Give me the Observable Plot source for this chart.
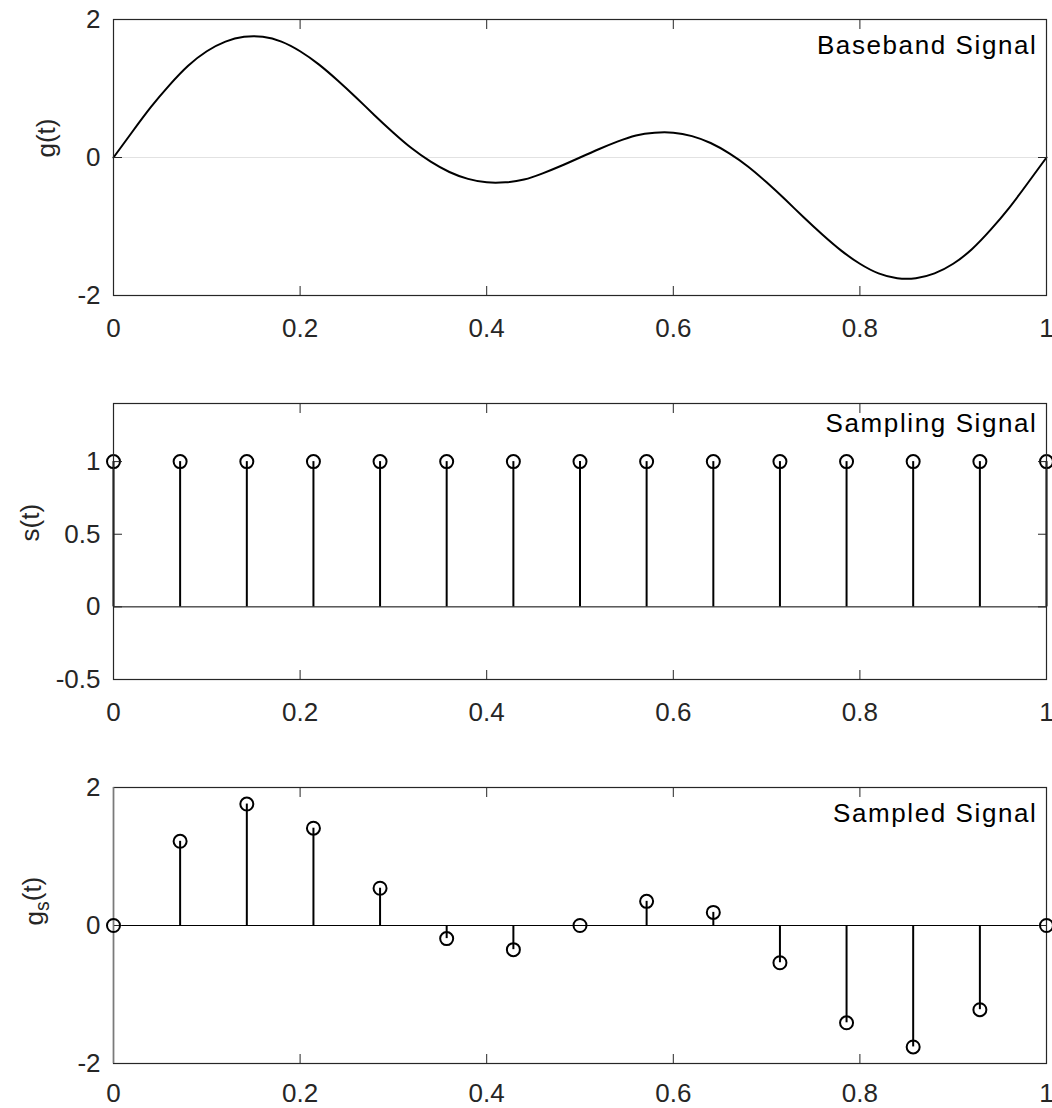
<!DOCTYPE html>
<html><head><meta charset="utf-8">
<script src="https://cdn.jsdelivr.net/npm/d3@7"></script>
<script src="https://cdn.jsdelivr.net/npm/@observablehq/plot@0.6"></script>
<style>
body{margin:0;background:#fff;overflow:hidden}
#c{position:relative;width:1052px;height:1108px;background:#fff}
#c svg{position:absolute;left:0}
</style>
</head><body><div id="c"></div>
<script>
// Baseband signal g(t)
const tCurve = [0,0.02,0.04,0.06,0.08,0.10,0.12,0.14,0.16,0.18,0.20,0.22,0.24,0.26,0.28,0.30,0.32,0.34,0.36,0.38,0.40,0.42,0.44,0.46,0.48,0.50,
  0.52,0.54,0.56,0.58,0.60,0.62,0.64,0.66,0.68,0.70,0.72,0.74,0.76,0.78,0.80,0.82,0.84,0.86,0.88,0.90,0.92,0.94,0.96,0.98,1.00];
const gCurve = [0,0.37,0.73,1.05,1.33,1.54,1.68,1.75,1.75,1.68,1.54,1.35,1.12,0.87,0.61,0.36,0.13,-0.06,-0.21,-0.31,-0.36,-0.36,-0.32,-0.23,-0.12,0,
  0.12,0.23,0.32,0.36,0.36,0.31,0.21,0.06,-0.13,-0.36,-0.61,-0.87,-1.12,-1.35,-1.54,-1.68,-1.75,-1.75,-1.68,-1.54,-1.33,-1.05,-0.73,-0.37,0];

// Samples (middle and bottom panels)
const tSamples = [0,0.0714,0.1429,0.2143,0.2857,0.3571,0.4286,0.5,0.5714,0.6429,0.7143,0.7857,0.8571,0.9286,1];
const sSamples = [1,1,1,1,1,1,1,1,1,1,1,1,1,1,1];
const gsSamples = [0,1.22,1.76,1.41,0.54,-0.19,-0.35,0,0.35,0.19,-0.54,-1.41,-1.76,-1.22,0];

const xTicks = [0,0.2,0.4,0.6,0.8,1];
const yTicksG = [-2,0,2];
const yTicksS = [-0.5,0,0.5,1];
const yTicksGs = [-2,0,2];
const titles = ["Baseband Signal","Sampling Signal","Sampled Signal"];
const yLabels = ["g(t)","s(t)","gs(t)"];

const AX = "#262626";
const FONT = "'Liberation Sans', Arial, Helvetica, sans-serif";
const fmt = d => String(d);

const curve = tCurve.map((t,i)=>({t, g: gCurve[i]}));
const samples = tSamples.map((t,i)=>({t, s: sSamples[i], g: gsSamples[i]}));

function axes(yTicks, xPad = 32){
  return [
    Plot.axisX(xTicks, {anchor:"bottom", tickSize:-9, tickPadding:xPad, tickFormat: fmt, label:null}),
    Plot.axisX(xTicks, {anchor:"top", tickSize:-9, tickFormat: () => "", label:null}),
    Plot.axisY(yTicks, {anchor:"left", tickSize:-9, tickPadding:22, tickFormat: fmt, label:null}),
    Plot.axisY(yTicks, {anchor:"right", tickSize:-9, tickFormat: () => "", label:null}),
    Plot.frame({stroke: AX, strokeWidth: 1.2})
  ];
}
function titleMark(s, dy){
  return Plot.text([s], {text: d=>d, frameAnchor:"top-right", textAnchor:"end", lineAnchor:"top", dx:-9, dy, fill:"black"});
}
function yLabelMark(s, dx){
  return Plot.text([s], {text: d=>d, frameAnchor:"left", rotate:-90, dx, fill: AX});
}
function base(height, marginBottom, ydom, marks){
  return Plot.plot({
    width:1052, height, marginLeft:113, marginRight:6, marginTop:19, marginBottom,
    style:{fontFamily: FONT, fontSize:"26px", color: AX, background:"white", overflow:"visible"},
    x:{domain:[0,1], axis:null},
    y:{domain:ydom, axis:null},
    marks
  });
}

const p1 = base(384, 89, [-2,2], [
  Plot.ruleY([0], {stroke:"#e2e2e2", strokeWidth:1}),
  Plot.line(curve, {x:"t", y:"g", stroke:"black", strokeWidth:2, curve:"natural"}),
  ...axes(yTicksG),
  titleMark(titles[0], 16),
  yLabelMark(yLabels[0], -67)
]);
const p2 = base(384, 89, [-0.5,1.4], [
  Plot.ruleY([0], {stroke:"black", strokeWidth:1}),
  Plot.ruleX(samples, {x:"t", y1:0, y2:"s", stroke:"black", strokeWidth:2}),
  Plot.dot(samples, {x:"t", y:"s", r:6.5, stroke:"black", strokeWidth:2, fill:"none"}),
  ...axes(yTicksS),
  titleMark(titles[1], 10),
  yLabelMark(yLabels[1], -83)
]);
const p3 = base(340, 45, [-2,2], [
  Plot.ruleY([0], {stroke:"black", strokeWidth:1}),
  Plot.ruleX(samples, {x:"t", y1:0, y2:"g", stroke:"black", strokeWidth:2}),
  ...axes(yTicksGs, 29),
  Plot.ruleX([0], {stroke:"#7a7a7a", strokeWidth:1.5}),
  Plot.dot(samples, {x:"t", y:"g", r:6.5, stroke:"black", strokeWidth:2, fill:"none"}),
  titleMark(titles[2], 16),
  yLabelMark(yLabels[2], -79)
]);

const c = document.getElementById("c");
[p1,p2,p3].forEach((p,i)=>{ p.style.top = (i*384)+"px"; c.appendChild(p); });

// title letter spacing and subscript in g_s(t)
d3.select(c).selectAll("text").each(function(){
  const t = this.textContent;
  if (titles.includes(t)) this.setAttribute("letter-spacing","1.6px");
  if (t === "gs(t)") {
    this.textContent = "";
    const ns = "http://www.w3.org/2000/svg";
    const a = document.createElementNS(ns,"tspan"); a.textContent = "g";
    const b = document.createElementNS(ns,"tspan"); b.textContent = "s"; b.setAttribute("dy","0.3em"); b.setAttribute("font-size","0.75em");
    const cc = document.createElementNS(ns,"tspan"); cc.textContent = "(t)"; cc.setAttribute("dy","-0.3em");
    this.append(a,b,cc);
  }
});
</script></body></html>
